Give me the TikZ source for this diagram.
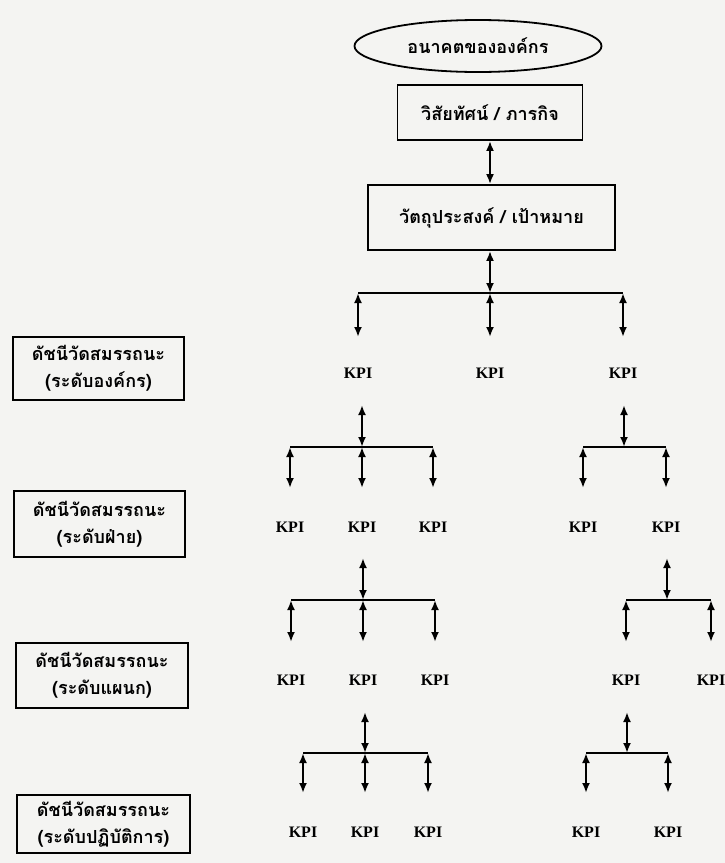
\documentclass[tikz,border=0pt]{standalone}
\usepackage{fontspec}
\setmainfont{Liberation Serif}
\newfontfamily\thaifont[Script=Thai]{Loma}
\usetikzlibrary{arrows.meta,shapes.geometric}
\definecolor{paper}{RGB}{244,244,242}

\begin{document}
\begin{tikzpicture}[x=1pt,y=-1pt,
  tip/.tip={Latex[length=10pt,width=8pt]},
  link/.style={line width=2.2pt,tip-tip},
  bar/.style={line width=2.2pt},
  kpi/.style={font=\bfseries\fontsize{16}{18}\selectfont,inner sep=1pt},
  thai/.style={font=\thaifont\bfseries\fontsize{18}{21}\selectfont,align=center},
  frame/.style={thai,draw,line width=1.8pt,inner sep=0pt},
  level/.style={frame,font=\thaifont\bfseries\fontsize{18}{27}\selectfont}]

% page
\fill[paper] (0,0) rectangle (725,863);
\useasboundingbox (0,0) rectangle (725,863);

% top of the chain
\node[thai,draw,ellipse,line width=1.8pt,minimum width=247pt,minimum height=52pt] (future) at (478,46) {อนาคตขององค์กร};
\node[frame,minimum width=185pt,minimum height=55pt] (vision) at (490,112.5) {วิสัยทัศน์ / ภารกิจ};
\node[frame,minimum width=247pt,minimum height=65pt] (goal) at (491.5,217.5) {วัตถุประสงค์ / เป้าหมาย};
\draw[link] (vision.south) -- (vision.south |- goal.north);

% level labels on the left
\node[level,minimum width=171pt,minimum height=63pt] (lvA) at (98.5,368.5) {ดัชนีวัดสมรรถนะ\\(ระดับองค์กร)};
\node[level,minimum width=171pt,minimum height=66pt] (lvB) at (99.5,524) {ดัชนีวัดสมรรถนะ\\(ระดับฝ่าย)};
\node[level,minimum width=172pt,minimum height=65pt] (lvC) at (102,675.5) {ดัชนีวัดสมรรถนะ\\(ระดับแผนก)};
\node[level,minimum width=173pt,minimum height=58pt] (lvD) at (103.5,824) {ดัชนีวัดสมรรถนะ\\(ระดับปฏิบัติการ)};

% level 1: organisation KPIs
\foreach \x/\n in {358/1,490/2,623/3} {
  \node[kpi] (k1\n) at (\x,373) {KPI};
  \coordinate (t1\n) at (\x,293);
  \coordinate (e1\n) at (\x,337);
  \draw[link] (t1\n) -- (e1\n);
}
\draw[bar] (t11) -- (t13);
\draw[link] (goal.south -| t12) -- (t12);

% level 2: division KPIs
\coordinate (sA) at (362,405); \coordinate (jA) at (362,447);
\foreach \x/\n in {290/1,362/2,433/3} {
  \node[kpi] (k2a\n) at (\x,527) {KPI};
  \coordinate (t2a\n) at (\x,447);
  \coordinate (e2a\n) at (\x,488);
  \draw[link] (t2a\n) -- (e2a\n);
}
\draw[bar] (t2a1) -- (t2a3);
\draw[link] (sA) -- (jA);

\coordinate (sB) at (624,405); \coordinate (jB) at (624,447);
\foreach \x/\n in {583/1,666/2} {
  \node[kpi] (k2b\n) at (\x,527) {KPI};
  \coordinate (t2b\n) at (\x,447);
  \coordinate (e2b\n) at (\x,488);
  \draw[link] (t2b\n) -- (e2b\n);
}
\draw[bar] (t2b1) -- (t2b2);
\draw[link] (sB) -- (jB);

% level 3: section KPIs
\coordinate (sC) at (363,558); \coordinate (jC) at (363,600);
\foreach \x/\n in {291/1,363/2,435/3} {
  \node[kpi] (k3a\n) at (\x,680) {KPI};
  \coordinate (t3a\n) at (\x,600);
  \coordinate (e3a\n) at (\x,642);
  \draw[link] (t3a\n) -- (e3a\n);
}
\draw[bar] (t3a1) -- (t3a3);
\draw[link] (sC) -- (jC);

\coordinate (sD) at (667,558); \coordinate (jD) at (667,600);
\foreach \x/\n in {626/1,711/2} {
  \node[kpi] (k3b\n) at (\x,680) {KPI};
  \coordinate (t3b\n) at (\x,600);
  \coordinate (e3b\n) at (\x,642);
  \draw[link] (t3b\n) -- (e3b\n);
}
\draw[bar] (t3b1) -- (t3b2);
\draw[link] (sD) -- (jD);

% level 4: operational KPIs
\coordinate (sE) at (365,712); \coordinate (jE) at (365,753);
\foreach \x/\n in {303/1,365/2,428/3} {
  \node[kpi] (k4a\n) at (\x,832) {KPI};
  \coordinate (t4a\n) at (\x,753);
  \coordinate (e4a\n) at (\x,793);
  \draw[link] (t4a\n) -- (e4a\n);
}
\draw[bar] (t4a1) -- (t4a3);
\draw[link] (sE) -- (jE);

\coordinate (sF) at (627,712); \coordinate (jF) at (627,753);
\foreach \x/\n in {586/1,668/2} {
  \node[kpi] (k4b\n) at (\x,832) {KPI};
  \coordinate (t4b\n) at (\x,753);
  \coordinate (e4b\n) at (\x,793);
  \draw[link] (t4b\n) -- (e4b\n);
}
\draw[bar] (t4b1) -- (t4b2);
\draw[link] (sF) -- (jF);
\end{tikzpicture}
\end{document}
